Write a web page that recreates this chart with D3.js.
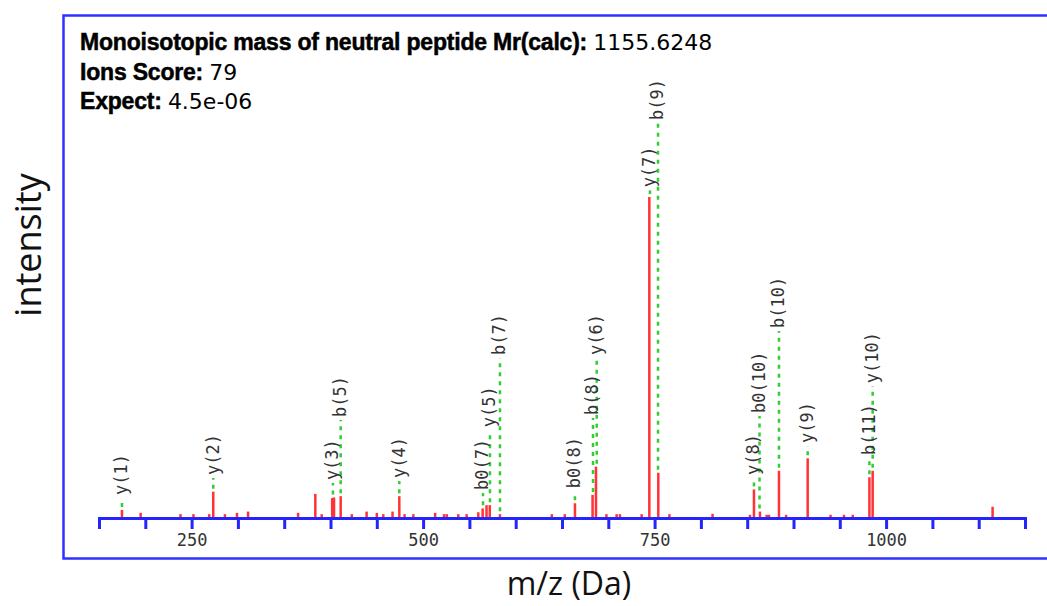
<!DOCTYPE html>
<html lang="en">
<head>
    <meta charset="UTF-8">
    <title>MS/MS spectrum</title>
    <script src="https://d3js.org/d3.v7.min.js"></script>
    <style>
    body{
        margin: 0;
        background: #fff;
    }
    .axis path,
    .axis line{
        fill: none;
        stroke: #2424ff;
        stroke-width: 3;
    }
    .axis text {
        font-family: "DejaVu Sans Mono", monospace;
        font-size: 17px;
        fill: #333;
    }
    .peak {
        stroke: #ff3333;
        stroke-width: 2.5;
    }
    .guide {
        stroke: #33cc33;
        stroke-width: 2.5;
        stroke-dasharray: 4,5;
    }
    .ion {
        font-family: "DejaVu Sans Mono", monospace;
        font-size: 17px;
        fill: #333;
    }
    .info {
        font-family: "Liberation Sans", Arial, sans-serif;
        font-size: 23px;
        font-weight: bold;
        letter-spacing: -0.2px;
        stroke: #000;
        stroke-width: 0.5;
    }
    .info .val {
        font-family: "DejaVu Sans", sans-serif;
        font-size: 22px;
        font-weight: normal;
        letter-spacing: 0;
        stroke: none;
    }
    .title {
        font-family: "Open Sans", sans-serif;
        fill: #111;
    }
    </style>
</head>
<body>
    <script>
    var width = 1047;
    var height = 606;

    // peaks: m/z and relative intensity
    var peakMz = [174.8, 195, 238, 252, 269, 273.4, 286, 299, 311, 365,
        383.6, 390.5, 401.8, 403.8, 411, 423, 439, 450, 457, 467,
        474.3, 480, 489.5, 513, 522.6, 525.5, 538, 547, 559.6, 564.3,
        568.5, 572, 583, 639, 653, 664, 683, 686.7, 698, 709,
        712.6, 736, 744.3, 754, 766, 812.6, 853, 857.3, 863.8, 871,
        873.5, 884.3, 892, 915.3, 940, 954.5, 964, 982, 985.5, 1115];
    var peakInt = [2.5, 1.6, 1.2, 1.2, 1.2, 8.2, 1.2, 1.6, 2, 1.6,
        7.5, 1.2, 6.2, 6.4, 6.8, 1.2, 2, 1.6, 1.2, 2,
        6.8, 1.2, 1.2, 1.6, 1.2, 1.2, 1.2, 1.2, 1.8, 3,
        4, 4, 1.2, 1.2, 1.2, 4.6, 7.2, 16, 1.2, 1.2,
        1.2, 1.2, 100, 14.1, 1.2, 1.3, 1, 8.9, 2, 1,
        1, 14.7, 1, 18.6, 1, 1, 1, 12.7, 14.7, 3.5];

    // matched ions: name, m/z, peak intensity, label level (intensity units)
    var ionNames = ["y(1)", "y(2)", "y(3)", "b(5)", "y(4)", "b0(7)", "y(5)", "b(7)",
        "b0(8)", "b(8)", "y(6)", "y(7)", "b(9)", "y(8)", "b0(10)", "b(10)",
        "y(9)", "b(11)", "y(10)"];
    var ionMz = [174.8, 273.4, 402.6, 411, 474.3, 564.7, 572.2, 583,
        664, 683.5, 687.5, 745, 753.7, 857.3, 863.3, 884.3,
        915.3, 982, 985.5];
    var ionInt = [2.5, 8.2, 6.4, 6.8, 6.8, 3, 4, 1.2,
        4.6, 7.2, 16, 100, 14.1, 8.9, 2, 14.7,
        18.6, 12.7, 14.7];
    var ionLevel = [7.2, 13.4, 11.8, 31.5, 12.5, 8.7, 28.3, 50.8,
        9.3, 32.1, 50.8, 103, 124, 13.4, 32.7, 59.2,
        23.4, 19.6, 42];

    var tickValues = d3.range(150, 1151, 50);
    var tickLabels = [250, 500, 750, 1000];

    var infoLines = [
        ["Monoisotopic mass of neutral peptide Mr(calc):", "1155.6248"],
        ["Ions Score:", "79"],
        ["Expect:", "4.5e-06"]
    ];

    var svg = d3.select("body")
        .append("svg")
        .attr("width", width)
        .attr("height", height);

    // frame
    svg.append("rect")
        .attr("x", 63.5)
        .attr("y", 15.5)
        .attr("width", 1010)
        .attr("height", 543)
        .attr("fill", "none")
        .attr("stroke", "#3030ff")
        .attr("stroke-width", 2.5);

    var xScale = d3.scaleLinear()
        .domain([150, 1150])
        .range([99, 1025]);

    var yScale = d3.scaleLinear()
        .domain([0, 100])
        .range([518, 197]);

    // peaks
    svg.append("g")
        .selectAll("line")
        .data(peakMz).enter()
        .append("line").attr("class", "peak")
        .attr("x1", function(d) { return xScale(d); })
        .attr("x2", function(d) { return xScale(d); })
        .attr("y1", yScale(0))
        .attr("y2", function(d, i) { return yScale(peakInt[i]); });

    // ion guides and labels
    var ions = ionNames.map(function(n, i) {
        return {name: n, mz: ionMz[i], inten: ionInt[i], level: ionLevel[i]};
    });

    svg.append("g")
        .selectAll("line")
        .data(ions).enter()
        .append("line").attr("class", "guide")
        .attr("x1", function(d) { return xScale(d.mz); })
        .attr("x2", function(d) { return xScale(d.mz); })
        .attr("y1", function(d) { return yScale(d.inten) - 3; })
        .attr("y2", function(d) { return yScale(d.level) + 3; });

    svg.append("g")
        .selectAll("text")
        .data(ions).enter()
        .append("text").attr("class", "ion")
        .attr("transform", function(d) {
            return "translate(" + xScale(d.mz) + "," + yScale(d.level) + ") rotate(-90)";
        })
        .attr("dy", "0.32em")
        .text(function(d) { return d.name; });

    // axis
    var xAxis = d3.axisBottom(xScale)
        .tickValues(tickValues)
        .tickSize(11)
        .tickSizeOuter(11)
        .tickPadding(5)
        .tickFormat(function(d) { return tickLabels.indexOf(d) >= 0 ? d : ""; });

    svg.append("g")
        .attr("class", "axis")
        .attr("transform", "translate(0," + yScale(0) + ")")
        .call(xAxis);

    // info text
    svg.append("g")
        .selectAll("text")
        .data(infoLines).enter()
        .append("text").attr("class", "info")
        .attr("x", 80)
        .attr("y", function(d, i) { return 50 + i * 29.5; })
        .each(function(d) {
            var t = d3.select(this);
            t.append("tspan").text(d[0] + " ");
            t.append("tspan").attr("class", "val").text(d[1]);
        });

    // axis titles
    svg.append("text")
        .attr("class", "title")
        .attr("font-size", 36)
        .attr("transform", "translate(41,245) rotate(-90)")
        .attr("text-anchor", "middle")
        .text("intensity");

    svg.append("text")
        .attr("class", "title")
        .attr("font-size", 32)
        .attr("x", 569)
        .attr("y", 595)
        .attr("text-anchor", "middle")
        .text("m/z (Da)");
    </script>
</body>
</html>
